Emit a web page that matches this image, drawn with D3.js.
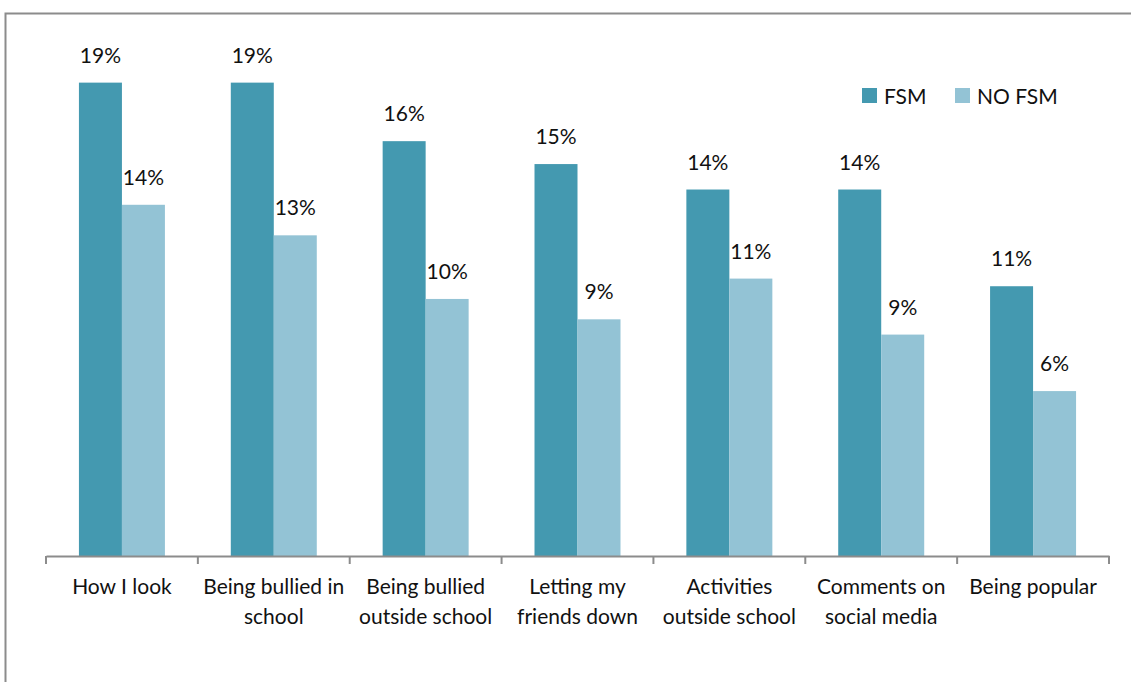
<!DOCTYPE html>
<html>
<head>
<meta charset="utf-8">
<style>
    body { margin: 0; background: #fff; }
    svg { display: block; font-family: Lato, 'Open Sans', sans-serif; }
    .x .domain, .x .tick line { stroke: #8c8c8c; stroke-width: 2px; }
    .val { font-size: 21px; fill: #111; }
    .legend text { font-size: 21px; fill: #111; }
</style>
</head>
<body>
<svg width="1131" height="682"></svg>
<script src="https://d3js.org/d3.v7.min.js"></script>
<script>
// categories, each split into its label lines
const categories = [
    ["How I look"],
    ["Being bullied in", "school"],
    ["Being bullied", "outside school"],
    ["Letting my", "friends down"],
    ["Activities", "outside school"],
    ["Comments on", "social media"],
    ["Being popular"]
];
const seriesNames = ["FSM", "NO FSM"];
const fsm   = [18.6, 18.6, 16.3, 15.4, 14.4, 14.4, 10.6];
const noFsm = [13.8, 12.6, 10.1, 9.3, 10.9, 8.7, 6.48];
const colors = ["#4499b0", "#93c3d5"];

const svg = d3.select("svg");
const margin = { left: 46, right: 22, top: 46, bottom: 126 };
const W = 1131, H = 682;

// outer border (only top and left fall inside the picture)
svg.append("rect")
    .attr("x", 5.5).attr("y", 13.5)
    .attr("width", 1200).attr("height", 800)
    .style("fill", "none").style("stroke", "#8c8c8c").style("stroke-width", 2);

const keys = categories.map((c, i) => i);
const x = d3.scaleBand()
    .domain(keys)
    .range([margin.left, W - margin.right])
    .paddingInner(0).paddingOuter(0);

const x1 = d3.scaleBand()
    .domain([0, 1])
    .range([0, x.bandwidth()])
    .paddingOuter(0.766).paddingInner(0);

const y = d3.scaleLinear()
    .domain([0, 20])
    .range([H - margin.bottom, H - margin.bottom - 509]);

const series = [fsm, noFsm];

// bars
series.forEach(function (vals, s) {
    svg.append("g").selectAll("rect")
        .data(vals)
        .join("rect")
        .attr("x", (d, i) => x(i) + x1(s))
        .attr("width", x1.bandwidth())
        .attr("y", d => y(d))
        .attr("height", d => y(0) - y(d))
        .style("fill", colors[s]);

    svg.append("g").selectAll("text")
        .data(vals)
        .join("text")
        .attr("class", "val")
        .attr("x", (d, i) => x(i) + x1(s) + x1.bandwidth() / 2)
        .attr("y", d => y(d) - 20)
        .attr("text-anchor", "middle")
        .text(d => Math.round(d) + "%");
});

// x axis with ticks at band edges
const xAxis = svg.append("g")
    .attr("class", "x axis")
    .attr("transform", `translate(0,${y(0)})`)
    .call(d3.axisBottom(x).tickSize(0).tickSizeOuter(0).tickFormat(""));

xAxis.selectAll(".tick").remove();

const edges = keys.map(i => x(i)).concat([x(keys.length - 1) + x.bandwidth()]);
xAxis.selectAll(".edge")
    .data(edges)
    .join("line")
    .attr("class", "edge")
    .attr("x1", d => d).attr("x2", d => d)
    .attr("y1", 0).attr("y2", 8)
    .style("stroke", "#8c8c8c").style("stroke-width", 2);

const labels = svg.append("g").attr("class", "x")
    .selectAll("text")
    .data(categories)
    .join("text")
    .attr("text-anchor", "middle")
    .style("font-size", "21px").style("fill", "#111")
    .attr("transform", (d, i) => `translate(${x(i) + x.bandwidth() / 2},${y(0) + 38})`);

labels.selectAll("tspan")
    .data(d => d)
    .join("tspan")
    .attr("x", 0)
    .attr("y", (d, j) => j * 30)
    .text(d => d);

// legend
const legend = svg.append("g").attr("class", "legend")
    .attr("transform", "translate(862,88)");

const legX = [0, 93];
seriesNames.forEach(function (name, s) {
    legend.append("rect")
        .attr("x", legX[s]).attr("y", 0)
        .attr("width", 15).attr("height", 15)
        .style("fill", colors[s]);
    legend.append("text")
        .attr("x", legX[s] + 22).attr("y", 16)
        .text(name);
});
</script>
</body>
</html>
